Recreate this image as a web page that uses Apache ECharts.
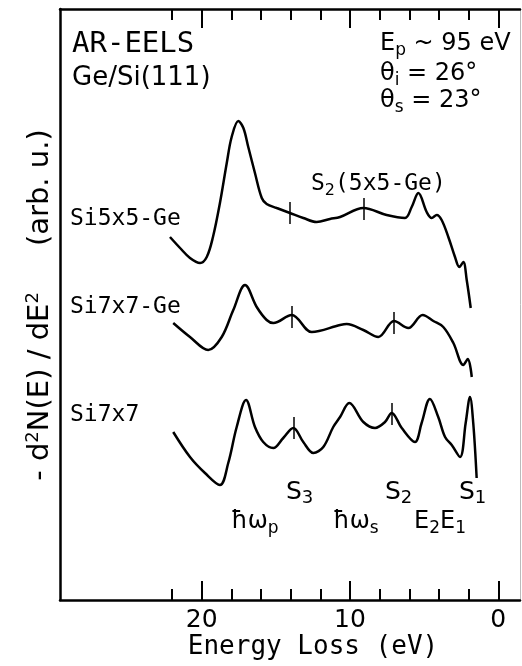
<!DOCTYPE html>
<html><head><meta charset="utf-8">
<script src="https://cdn.jsdelivr.net/npm/echarts@6/dist/echarts.min.js"></script>
<style>html,body{margin:0;padding:0;background:#fff}#c{width:522px;height:666px}</style>
</head><body><div id="c"></div>
<script>
// ---- axis ticks (eV) ----
const majorTicks = [20, 10, 0];
const minorTicks = [22, 18, 16, 14, 12, 8, 6, 4, 2];
const tickLabels = ['20', '10', '0'];

// ---- Si5x5-Ge curve: energy loss (eV) and signal (arb. u.) ----
const si5x5GeE = [22.14,21.46,20.79,20.11,19.66,19.24,18.77,18.31,17.98,17.53,17.19,16.86,16.41,15.95,15.62,14.94,14.05,13.15,12.25,11.35,10.67,9.10,7.53,6.29,5.84,5.39,4.83,4.49,4.15,3.82,3.37,2.92,2.63,2.36,2.13,1.86];
const si5x5GeY = [363,352,342,337,343,363,397,437,463,479,472,453,427,402,396,392,387,382,378,381,383,392,385,382,393,407,388,382,385,380,363,343,333,338,320,292];
const si5x5GeMarks = [[14.05, 387], [9.10, 391]];

// ---- Si7x7-Ge curve ----
const si7x7GeE = [21.92,20.79,19.56,18.65,17.87,17.08,16.29,15.62,15.17,13.93,12.58,10.67,10.22,9.10,8.09,7.03,6.07,5.10,4.38,3.71,3.03,2.36,2.06,1.79];
const si7x7GeY = [277,263,250,263,290,315,293,280,277,285,268,275,276,270,263,279,272,285,279,273,257,235,241,223];
const si7x7GeMarks = [[13.93, 283], [7.03, 277]];

// ---- Si7x7 curve ----
const si7x7E = [21.92,20.79,19.78,18.77,18.21,17.64,17.01,16.41,15.85,15.17,14.50,13.82,13.15,12.47,11.80,11.13,10.67,10.05,9.10,8.31,7.64,7.19,6.51,5.62,5.17,4.61,4.05,3.59,3.14,2.58,2.20,1.91,1.69,1.46];
const si7x7Y = [168,143,127,115,137,173,200,173,158,152,162,172,158,147,153,173,183,197,178,172,178,187,172,158,177,201,183,163,155,143,177,203,177,122];
const si7x7Marks = [[13.82, 172], [7.19, 186]];

const pairs = (xs, ys) => xs.map((x, i) => [x, ys[i]]);
const markHalf = 11;
const marks = m => m.map(([e, v]) => [{coord: [e, v - markHalf]}, {coord: [e, v + markHalf]}]);

const SANS = 'DejaVu Sans';
const MONO = 'DejaVu Sans Mono';
const X_MIN = -1.463, X_MAX = 29.555;

function curve(name, xs, ys, m) {
  return {
    type: 'line', name, data: pairs(xs, ys), showSymbol: false, smooth: 0.35,
    lineStyle: {color: '#000', width: 2.5}, silent: true,
    markLine: {symbol: 'none', silent: true, label: {show: false},
      lineStyle: {color: '#000', width: 1.5, type: 'solid'}, data: marks(m)}
  };
}
function xAx(pos, ticks, len, showLine, showLabel) {
  return {
    type: 'value', position: pos, inverse: true, min: X_MIN, max: X_MAX,
    axisLine: {show: showLine, onZero: false, lineStyle: {color: '#000', width: 2.5}},
    axisTick: {show: true, inside: true, length: len, customValues: ticks, lineStyle: {color: '#000', width: 2}},
    axisLabel: showLabel ? {show: true, customValues: majorTicks, fontFamily: SANS, fontSize: 25, color: '#000', margin: 8,
      formatter: v => tickLabels[majorTicks.indexOf(v)]} : {show: false},
    splitLine: {show: false}
  };
}
function yAx(pos, w, color) {
  return {type: 'value', position: pos, min: 0, max: 591,
    axisLine: {show: true, onZero: false, lineStyle: {color, width: w}},
    axisTick: {show: false}, axisLabel: {show: false}, splitLine: {show: false}};
}
function txt(x, y, text, size, family, extra) {
  return Object.assign({type: 'text', x, y, silent: true,
    style: {text, fontSize: size, fontFamily: family, fill: '#000', align: 'left', verticalAlign: 'middle',
      lineHeight: 30,
      rich: {
        sub: {fontSize: Math.round(size * 0.7), fontFamily: SANS, fill: '#000', lineHeight: 17, verticalAlign: 'bottom'},
        sup: {fontSize: Math.round(size * 0.62), fontFamily: SANS, fill: '#000', lineHeight: 16, verticalAlign: 'top'}
      }}}, extra || {});
}

const chart = echarts.init(document.getElementById('c'), null, {renderer: 'canvas'});
chart.setOption({
  animation: false,
  backgroundColor: '#fff',
  grid: {left: 60, right: 2, top: 9, bottom: 66},
  xAxis: [
    xAx('bottom', majorTicks, 19, true, true),
    xAx('bottom', minorTicks, 11, false, false),
    xAx('top', majorTicks, 19, true, false),
    xAx('top', minorTicks, 11, false, false)
  ],
  yAxis: [yAx('left', 2.5, '#000'), yAx('right', 1, '#bbb')],
  series: [
    curve('Si5x5-Ge', si5x5GeE, si5x5GeY, si5x5GeMarks),
    curve('Si7x7-Ge', si7x7GeE, si7x7GeY, si7x7GeMarks),
    curve('Si7x7', si7x7E, si7x7Y, si7x7Marks)
  ],
  graphic: [
    txt(72, 44, 'AR-EELS', 29, MONO),
    txt(72, 78, 'Ge/Si(111)', 26, SANS),
    txt(380, 44, 'E{sub|p} ~ 95 eV', 24, SANS),
    txt(380, 74, 'θ{sub|i} = 26°', 24, SANS),
    txt(380, 101, 'θ{sub|s} = 23°', 24, SANS),
    txt(311, 184, 'S{sub|2}(5x5-Ge)', 23, MONO),
    txt(70, 219, 'Si5x5-Ge', 23, MONO),
    txt(70, 307, 'Si7x7-Ge', 23, MONO),
    txt(70, 415, 'Si7x7', 23, MONO),
    txt(286, 492, 'S{sub|3}', 25, SANS),
    txt(385, 492, 'S{sub|2}', 25, SANS),
    txt(459, 492, 'S{sub|1}', 25, SANS),
    txt(231, 522, 'ħω{sub|p}', 24, SANS),
    txt(333, 522, 'ħω{sub|s}', 24, SANS),
    txt(414, 522, 'E{sub|2}E{sub|1}', 24, SANS),
    {type: 'text', x: 313, y: 647, silent: true,
      style: {text: 'Energy Loss (eV)', fontSize: 26, fontFamily: MONO, fill: '#000', align: 'center', verticalAlign: 'middle'}},
    {type: 'text', x: 40, y: 305, rotation: Math.PI / 2, silent: true,
      style: {text: '- d{sup|2}N(E) / dE{sup|2}     (arb. u.)', fontSize: 29, fontFamily: SANS, fill: '#000',
        align: 'center', verticalAlign: 'middle', lineHeight: 32,
        rich: {sup: {fontSize: 18, fontFamily: SANS, fill: '#000', lineHeight: 16, verticalAlign: 'top'}}}}
  ]
});
</script></body></html>
